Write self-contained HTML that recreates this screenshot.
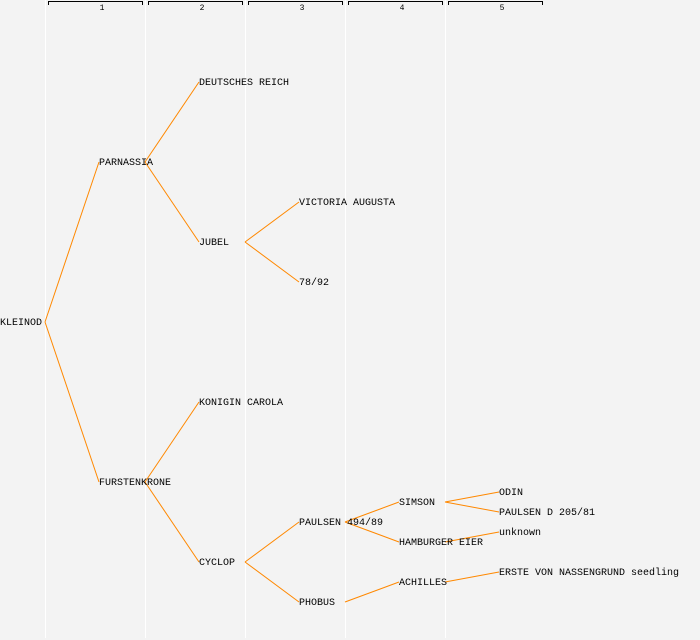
<!DOCTYPE html>
<html><head><meta charset="utf-8"><style>
html,body{margin:0;padding:0;background:#f3f3f3;}
svg{display:block;}
text{font-family:"Liberation Mono","DejaVu Sans Mono",monospace;font-size:10px;fill:#000;}
.t{font-size:8px;text-anchor:middle;}
</style></head><body>
<svg width="700" height="640" xmlns="http://www.w3.org/2000/svg">
<rect width="700" height="640" fill="#f3f3f3"/>
<g stroke="#ffffff" stroke-width="1">
<line x1="45.5" y1="0" x2="45.5" y2="638"/>
<line x1="145.5" y1="0" x2="145.5" y2="638"/>
<line x1="245.5" y1="0" x2="245.5" y2="638"/>
<line x1="345.5" y1="0" x2="345.5" y2="638"/>
<line x1="445.5" y1="0" x2="445.5" y2="638"/>
</g>
<g stroke="#000" stroke-width="1" fill="none">
<path d="M48.5,5 V1.5 H142.5 V5"/>
<path d="M148.5,5 V1.5 H242.5 V5"/>
<path d="M248.5,5 V1.5 H342.5 V5"/>
<path d="M348.5,5 V1.5 H442.5 V5"/>
<path d="M448.5,5 V1.5 H542.5 V5"/>
</g>
<text class="t" x="102" y="10">1</text>
<text class="t" x="202" y="10">2</text>
<text class="t" x="302" y="10">3</text>
<text class="t" x="402" y="10">4</text>
<text class="t" x="502" y="10">5</text>
<g stroke="#ff8800" stroke-width="1" fill="none">
<line x1="45" y1="322" x2="99" y2="162"/>
<line x1="45" y1="322" x2="99" y2="482"/>
<line x1="145" y1="162" x2="199" y2="82"/>
<line x1="145" y1="162" x2="199" y2="242"/>
<line x1="145" y1="482" x2="199" y2="402"/>
<line x1="145" y1="482" x2="199" y2="562"/>
<line x1="245" y1="242" x2="299" y2="202"/>
<line x1="245" y1="242" x2="299" y2="282"/>
<line x1="245" y1="562" x2="299" y2="522"/>
<line x1="245" y1="562" x2="299" y2="602"/>
<line x1="345" y1="522" x2="399" y2="502"/>
<line x1="345" y1="522" x2="399" y2="542"/>
<line x1="345" y1="602" x2="399" y2="582"/>
<line x1="445" y1="502" x2="499" y2="492"/>
<line x1="445" y1="502" x2="499" y2="512"/>
<line x1="445" y1="542" x2="499" y2="532"/>
<line x1="445" y1="582" x2="499" y2="572"/>
</g>
<text x="0" y="325">KLEINOD</text>
<text x="99" y="165">PARNASSIA</text>
<text x="99" y="485">FURSTENKRONE</text>
<text x="199" y="85">DEUTSCHES REICH</text>
<text x="199" y="245">JUBEL</text>
<text x="199" y="405">KONIGIN CAROLA</text>
<text x="199" y="565">CYCLOP</text>
<text x="299" y="205">VICTORIA AUGUSTA</text>
<text x="299" y="285">78/92</text>
<text x="299" y="525">PAULSEN 494/89</text>
<text x="299" y="605">PHOBUS</text>
<text x="399" y="505">SIMSON</text>
<text x="399" y="545">HAMBURGER EIER</text>
<text x="399" y="585">ACHILLES</text>
<text x="499" y="495">ODIN</text>
<text x="499" y="515">PAULSEN D 205/81</text>
<text x="499" y="535">unknown</text>
<text x="499" y="575">ERSTE VON NASSENGRUND seedling</text>
</svg>
</body></html>
